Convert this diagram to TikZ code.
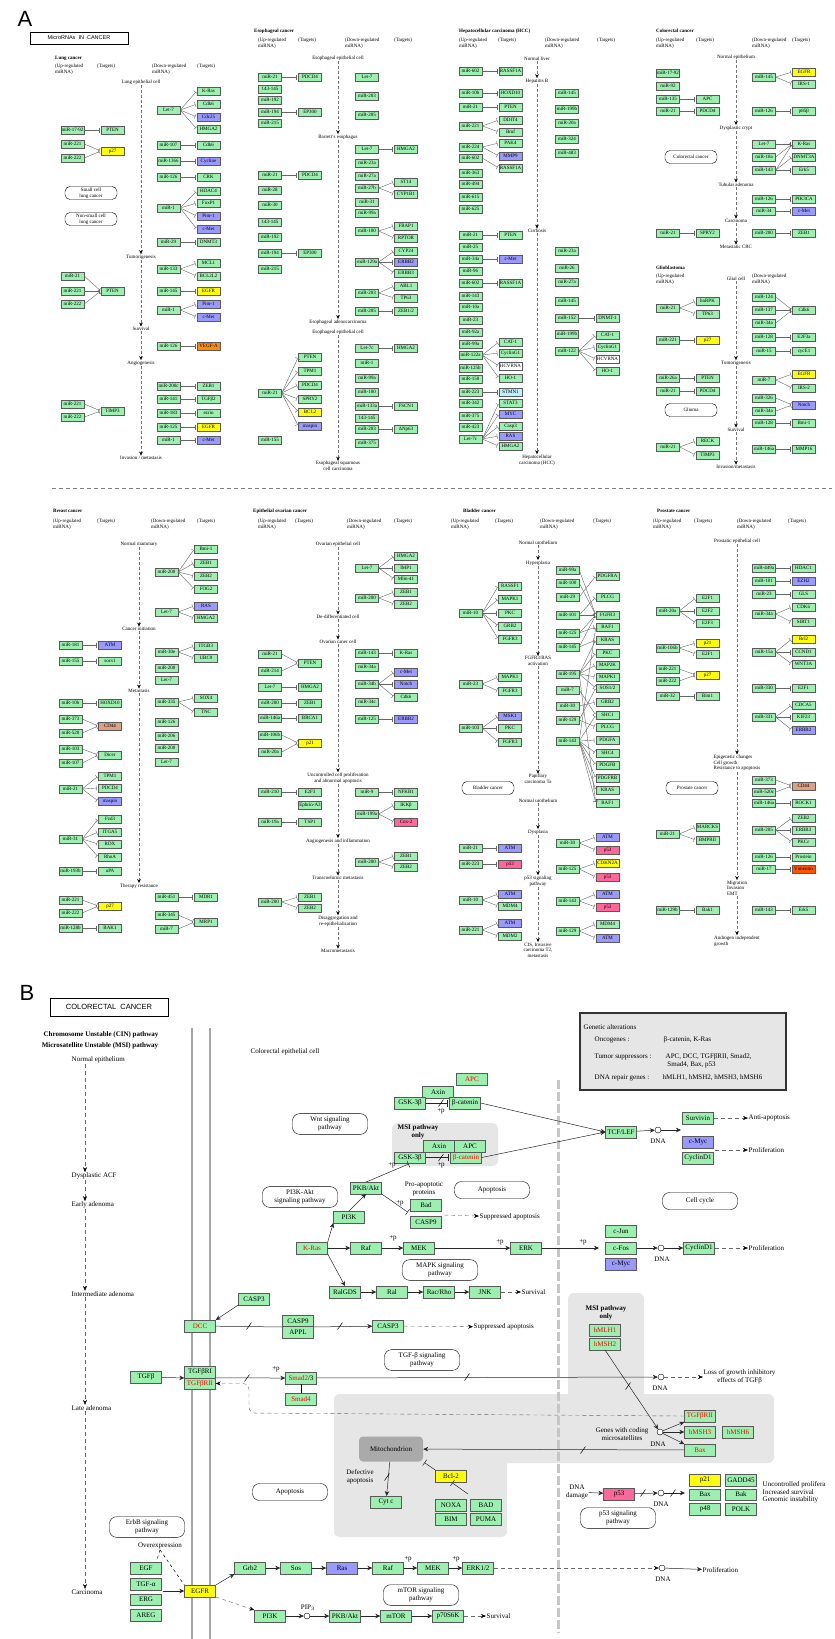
\documentclass[tikz,border=0pt]{standalone}
\usepackage{fontspec}
\setmainfont{Liberation Serif}
\newfontfamily\sansf{Liberation Sans}
\usetikzlibrary{arrows.meta,positioning}
\definecolor{kgreen}{RGB}{155,240,175}
\definecolor{kblue}{RGB}{153,153,255}
\definecolor{kyel}{RGB}{255,255,0}
\definecolor{korange}{RGB}{255,140,0}
\definecolor{kverm}{RGB}{255,85,0}
\definecolor{kpink}{RGB}{255,102,153}
\definecolor{ksalmon}{RGB}{222,160,130}
\definecolor{kcyan}{RGB}{190,240,255}
\definecolor{kgray}{RGB}{230,230,230}
\definecolor{kmito}{RGB}{170,170,170}
\newcommand\fsA{\fontsize{5}{5.6}\selectfont}
\newcommand\fsB{\fontsize{7}{7.6}\selectfont}

\begin{document}
\begin{tikzpicture}[x=1pt, y=-1pt, line width=0.4pt,
    mi/.style={draw=black!65, fill=kgreen, minimum width=23pt, minimum height=8.5pt, inner sep=0pt, font=\fsA},
    mb/.style={mi, fill=kblue}, my/.style={mi, fill=kyel}, mo/.style={mi, fill=korange},
    mv/.style={mi, fill=kverm}, mp/.style={mi, fill=kpink}, ms/.style={mi, fill=ksalmon},
    mc/.style={mi, fill=kcyan}, mw/.style={mi, fill=white},
    lab/.style={font=\fsA, align=center, inner sep=0.5pt},
    hd/.style={font=\fsA, align=left, anchor=north west, inner sep=0pt},
    ttl/.style={font=\fsA\bfseries, anchor=west, inner sep=0pt},
    pw/.style={draw, rounded corners=5pt, font=\fsA, align=center, minimum width=52pt, minimum height=13pt, inner sep=1pt},
    flow/.style={draw=black!55, dash pattern=on 3pt off 2pt, -{Stealth[length=4pt,width=3.5pt,black]}},
    inh/.style={draw=black!60, -{Bar[width=5pt]}, shorten >=1.5pt},
    gbox/.style={draw=black!65, fill=kgreen, minimum width=31pt, minimum height=11.5pt, inner sep=0pt, font=\fsB},
    gblue/.style={gbox, fill=kblue}, gyel/.style={gbox, fill=kyel}, gpink/.style={gbox, fill=kpink},
    rt/.style={text=red},
    labB/.style={font=\fsB, align=center, inner sep=0.5pt},
    pwB/.style={draw, rounded corners=7pt, font=\fsB, align=center, minimum width=75pt, minimum height=17pt},
    act/.style={draw=black!85, line width=0.5pt, -{Stealth[length=5pt,width=4.5pt]}},
    inhB/.style={draw=black!85, line width=0.5pt, -{Bar[width=7pt]}, shorten >=1.5pt},
    dna/.style={circle, draw, fill=white, minimum size=6pt, inner sep=0pt},
    flowB/.style={draw=black!60, dash pattern=on 4pt off 3pt, -{Stealth[length=5pt,width=4pt,black]}}
  ]
  \useasboundingbox (0,0) rectangle (835,1639);
  \fill[white] (0,0) rectangle (835,1639);

  % ---------- Panel A ----------
  \node[font=\sansf\fontsize{22}{22}\selectfont, inner sep=0pt] (letA) at (25,19) {A};
  \node[draw, line width=0.8pt, minimum width=98pt, minimum height=12pt, inner sep=0pt, font=\sansf\fontsize{5.5}{6}\selectfont] (titA) at (79,38) {MicroRNAs\ \ IN\ \ CANCER};
  \draw[black!50, dash pattern=on 4pt off 3pt] (52,488) -- (832,488);

  % Lung cancer
  \node[ttl] (lu-t) at (55,58) {Lung cancer};
  \node[hd] (lu-h1) at (55,64) {(Up-regulated\\miRNA)};
  \node[hd] (lu-h2) at (97,64) {(Targets)};
  \node[hd] (lu-h3) at (152,64) {(Down-regulated\\miRNA)};
  \node[hd] (lu-h4) at (197,64) {(Targets)};
  \foreach \n/\y/\t in {0/82/Lung epithelial cell, 1/257/Tumorigenesis, 2/329/Survival, 3/363/Angiogenesis, 4/458/{Invasion / metastasis}}
    \node[lab] (lu-s\n) at (141,\y) {\t};
  \foreach \a/\b in {0/1,1/2,2/3,3/4} \draw[flow] (lu-s\a) -- (lu-s\b);
  \node[pw] (lu-p1) at (91,193) {Small cell\\lung cancer};
  \node[pw] (lu-p2) at (91,219) {Non-small cell\\lung cancer};
  \foreach \n/\y/\t in {1/130/miR-17-92, 2/144/miR-221, 3/158/miR-222, 4/276/miR-21, 5/291/miR-221, 6/304/miR-222, 7/404/miR-221, 8/417/miR-222}
    \node[mi] (lu-L\n) at (72.5,\y) {\t};
  \foreach \n/\y/\t/\s in {1/130/PTEN/mi, 2/151/p27/my, 3/291/PTEN/mi, 4/411/TIMP3/mi}
    \node[\s] (lu-l\n) at (112.5,\y) {\t};
  \foreach \n/\y/\t in {1/110/Let-7, 2/145/miR-107, 3/161/miR-1366, 4/177/miR-126, 5/208/miR-1, 6/242/miR-29, 7/269/miR-133, 8/291/miR-145, 9/310/miR-1, 10/346/miR-126, 11/386/miR-200c, 12/399/miR-141, 13/413/miR-183, 14/427/miR-125, 15/440/miR-1}
    \node[mi] (lu-R\n) at (168.5,\y) {\t};
  \foreach \n/\y/\t/\s in {1/91/K-Ras/mi, 2/104/Cdk6/mi, 3/117/Cdc25/mb, 4/129/HMGA2/mi, 5/145/Cdk6/mi, 6/161/Cycline/mb, 7/177/CRK/mi, 8/191/HDAC4/mi, 9/203/FoxP1/mi, 10/216/Pim-1/mb, 11/229/c-Met/mb, 12/242/DNMT3/mi, 13/263/MCL1/mi, 14/276/BCL2L2/mi, 15/291/EGFR/my, 16/304/Pim-1/mb, 17/317/c-Met/mb, 18/346/VEGF-A/mo, 19/386/ZEB1/mi, 20/399/TGFβ2/mi, 21/413/ezrin/mi, 22/427/EGFR/my, 23/440/c-Met/mb}
    \node[\s] (lu-r\n) at (208.5,\y) {\t};
  \foreach \a/\b in {L1/l1, L2/l2, L3/l2, L4/l3, L5/l3, L6/l3, L7/l4, L8/l4, R1/r1, R1/r2, R1/r3, R1/r4, R2/r5, R3/r6, R4/r7, R5/r8, R5/r9, R5/r10, R5/r11, R6/r12, R7/r13, R7/r14, R8/r15, R9/r16, R9/r17, R10/r18, R11/r19, R12/r20, R13/r21, R14/r22, R15/r23}
    \draw[inh] (lu-\a.east) -- (lu-\b.west);

  % Esophageal cancer
  \node[ttl] (es-t) at (254,31) {Esophageal cancer};
  \node[hd] (es-h1) at (258,38) {(Up-regulated\\miRNA)};
  \node[hd] (es-h2) at (298,38) {(Targets)};
  \node[hd] (es-h3) at (345,38) {(Down-regulated\\miRNA)};
  \node[hd] (es-h4) at (394,38) {(Targets)};
  \foreach \n/\y/\t in {0/58/Esophageal epithelial cell, 1/137/Barrett's esophagus, 2/322/Esophageal adenocarcinoma, 3/332/Esophageal epithelial cell, 4/466/{Esophageal squamous\\cell carcinoma}}
    \node[lab] (es-s\n) at (338,\y) {\t};
  \foreach \a/\b in {0/1,1/2,3/4} \draw[flow] (es-s\a) -- (es-s\b);
  \foreach \n/\y/\t in {1/77/miR-21, 2/89/143-145, 3/100/miR-192, 4/112/miR-194, 5/123/miR-215, 6/175/miR-21, 7/190/miR-28, 8/205/miR-30, 9/222/143-145, 10/237/miR-192, 11/253/miR-194, 12/269/miR-215, 13/393/miR-21, 14/440/miR-155}
    \node[mi] (es-L\n) at (270,\y) {\t};
  \foreach \n/\y/\t/\s in {1/77/PDCD4/mi, 2/112/EP300/mi, 3/175/PDCD4/mi, 4/253/EP300/mi, 5/357/PTEN/mi, 6/371/TPM1/mi, 7/385/PDCD4/mi, 8/399/SPRY2/mi, 9/412/BCL2/my, 10/426/maspin/mb}
    \node[\s] (es-l\n) at (310,\y) {\t};
  \foreach \n/\y/\t in {1/77/Let-7, 2/96/miR-203, 3/115/miR-205, 4/149/Let-7, 5/163/miR-23a, 6/176/miR-27a, 7/188/miR-27b, 8/202/miR-31, 9/213/miR-99a, 10/231/miR-100, 11/262/miR-129a, 12/293/miR-203, 13/311/miR-205, 14/348/Let-7c, 15/363/miR-1, 16/378/miR-99a, 17/392/miR-100, 18/406/miR-133a, 19/418/143-145, 20/429/miR-203, 21/443/miR-375}
    \node[mi] (es-R\n) at (367,\y) {\t};
  \foreach \n/\y/\t/\s in {1/149/HMGA2/mi, 2/182/ST14/mi, 3/194/CYP1B1/mi, 4/226/FRAP1/mi, 5/238/RPTOR/mi, 6/251/CYP24/mi, 7/262/ERBB2/mb, 8/273/ERBB3/mi, 9/286/ABL1/mi, 10/298/TP63/mi, 11/311/{ZEB1/2}/mi, 12/348/HMGA2/mi, 13/406/FSCN1/mi, 14/429/ΔNp63/mi}
    \node[\s] (es-r\n) at (406,\y) {\t};
  \foreach \a/\b in {L1/l1, L4/l2, L6/l3, L11/l4, L13/l5, L13/l6, L13/l7, L13/l8, L13/l9, L13/l10, R4/r1, R7/r2, R7/r3, R10/r4, R10/r5, R11/r6, R11/r7, R11/r8, R12/r9, R12/r10, R13/r11, R14/r12, R18/r13, R20/r14}
    \draw[inh] (es-\a.east) -- (es-\b.west);

  % Hepatocellular carcinoma
  \node[ttl] (hc-t) at (459,31) {Hepatocellular carcinoma (HCC)};
  \node[hd] (hc-h1) at (459,38) {(Up-regulated\\miRNA)};
  \node[hd] (hc-h2) at (498,38) {(Targets)};
  \node[hd] (hc-h3) at (545,38) {(Down-regulated\\miRNA)};
  \node[hd] (hc-h4) at (597,38) {(Targets)};
  \foreach \n/\y/\t in {0/59/Normal liver, 1/81/Hepatitis B, 2/231/Cirrhosis, 3/460/{Hepatocellular\\carcinoma (HCC)}}
    \node[lab] (hc-s\n) at (537,\y) {\t};
  \foreach \a/\b in {0/1,1/2,2/3} \draw[flow] (hc-s\a) -- (hc-s\b);
  \foreach \n/\y/\t in {1/71/miR-602, 2/93/miR-10b, 3/107/miR-21, 4/126/miR-221, 5/147/miR-224, 6/158/miR-602, 7/173/miR-363, 8/184/miR-494, 9/197/miR-615, 10/209/miR-625, 11/235/miR-21, 12/247/miR-25, 13/259/miR-34a, 14/271/miR-96, 15/283/miR-602, 16/296/miR-143, 17/307/miR-10a, 18/320/miR-23, 19/332/miR-92a, 20/344/miR-99a, 21/355/miR-122a, 22/368/miR-125b, 23/379/miR-150, 24/392/miR-223, 25/403/miR-342, 26/416/miR-375, 27/427/miR-423, 28/439/Let-7c}
    \node[mi] (hc-L\n) at (470.5,\y) {\t};
  \foreach \n/\y/\t/\s in {1/71/RASSF1A/mi, 2/93/HOXD10/mi, 3/107/PTEN/mi, 4/120/DDIT4/mi, 5/132/Bmf/mi, 6/143/PAK4/mi, 7/156/MMP9/mb, 8/168/RASSF1A/mi, 9/235/PTEN/mi, 10/259/c-Met/mb, 11/283/RASSF1A/mi, 12/342/CAT-1/mi, 13/353/CyclinG1/mi, 14/366/HCVRNA/mw, 15/378/HO-1/mi, 16/392/STMN1/mc, 17/403/STAT3/mi, 18/414/MYC/mb, 19/426/Casp3/mi, 20/436/RAS/mb, 21/446/HMGA2/mi}
    \node[\s] (hc-l\n) at (510.5,\y) {\t};
  \foreach \n/\y/\t in {1/93/miR-145, 2/109/miR-199b, 3/123/miR-20a, 4/139/miR-324, 5/153/miR-483, 6/251/miR-23a, 7/268/miR-26, 8/282/miR-27a, 9/301/miR-145, 10/318/miR-152, 11/334/miR-199b, 12/351/miR-122}
    \node[mi] (hc-R\n) at (567,\y) {\t};
  \foreach \n/\y/\t/\s in {1/318/DNMT-1/mi, 2/335/CAT-1/mi, 3/347/CyclinG1/mi, 4/359/HCVRNA/mw, 5/371/HO-1/mi}
    \node[\s] (hc-r\n) at (607.5,\y) {\t};
  \foreach \a/\b in {L1/l1, L2/l2, L3/l3, L4/l4, L4/l5, L5/l6, L5/l7, L6/l8, L11/l9, L13/l10, L15/l11, L21/l12, L21/l13, L21/l14, L21/l15, L24/l16, L28/l17, L28/l18, L28/l19, L28/l20, L28/l21, R10/r1, R12/r2, R12/r3, R12/r4, R12/r5}
    \draw[inh] (hc-\a.east) -- (hc-\b.west);

  % Colorectal cancer
  \node[ttl] (cr-t) at (656,31) {Colorectal cancer};
  \node[hd] (cr-h1) at (656,38) {(Up-regulated\\miRNA)};
  \node[hd] (cr-h2) at (696,38) {(Targets)};
  \node[hd] (cr-h3) at (752,38) {(Down-regulated\\miRNA)};
  \node[hd] (cr-h4) at (792,38) {(Targets)};
  \foreach \n/\y/\t in {0/57/Normal epithelium, 1/128/Dysplastic crypt, 2/185/Tubular adenoma, 3/221/Carcinoma, 4/247/Metastatic CRC}
    \node[lab] (cr-s\n) at (736,\y) {\t};
  \foreach \a/\b in {0/1,1/2,2/3,3/4} \draw[flow] (cr-s\a) -- (cr-s\b);
  \node[pw] (cr-p) at (691,157) {Colorectal cancer};
  \foreach \n/\y/\t in {1/73/miR-17-92, 2/86/miR-92, 3/99/miR-135, 4/111/miR-21, 5/233/miR-21}
    \node[mi] (cr-L\n) at (668,\y) {\t};
  \foreach \n/\y/\t in {1/99/APC, 2/111/PDCD4, 3/233/SPRY2}
    \node[mi] (cr-l\n) at (707.5,\y) {\t};
  \foreach \n/\y/\t in {1/77/miR-145, 2/111/miR-126, 3/144/Let-7, 4/157/miR-18a, 5/170/miR-143, 6/199/miR-126, 7/211/miR-34, 8/233/miR-200}
    \node[mi] (cr-R\n) at (764,\y) {\t};
  \foreach \n/\y/\t/\s in {1/72/EGFR/my, 2/84/IRS-1/mi, 3/111/p85β/mi, 4/144/K-Ras/mi, 5/157/DNMT3A/mi, 6/170/Erk5/mi, 7/199/PIK3CA/mi, 8/211/c-Met/mb, 9/233/ZEB1/mi}
    \node[\s] (cr-r\n) at (804,\y) {\t};
  \foreach \a/\b in {L3/l1, L4/l2, L5/l3, R1/r1, R1/r2, R2/r3, R3/r4, R4/r4, R5/r4, R5/r5, R5/r6, R6/r7, R7/r8, R8/r9}
    \draw[inh] (cr-\a.east) -- (cr-\b.west);

  % Glioblastoma
  \node[ttl] (gb-t) at (656,268) {Glioblastoma};
  \node[hd] (gb-h1) at (656,274) {(Up-regulated\\miRNA)};
  \node[hd] (gb-h3) at (752,274) {(Down-regulated\\miRNA)};
  \foreach \n/\y/\t in {0/279/Glial cell, 1/363/Tumorigenesis, 2/430/Survival, 3/467/{Invasion/metastasis}}
    \node[lab] (gb-s\n) at (736,\y) {\t};
  \foreach \a/\b in {0/1,1/2,2/3} \draw[flow] (gb-s\a) -- (gb-s\b);
  \node[pw] (gb-p) at (691,410) {Glioma};
  \foreach \n/\y/\t in {1/308/miR-21, 2/340/miR-221, 3/378/miR-26a, 4/391/miR-21, 5/447/miR-21}
    \node[mi] (gb-L\n) at (668,\y) {\t};
  \foreach \n/\y/\t/\s in {1/301/hnRPK/mi, 2/314/TP63/mi, 3/340/p27/my, 4/378/PTEN/mi, 5/391/PDCD4/mi, 6/441/RECK/mi, 7/455/TIMP3/mi}
    \node[\s] (gb-l\n) at (707.5,\y) {\t};
  \foreach \n/\y/\t in {1/297/miR-124, 2/310/miR-137, 3/323/miR-34a, 4/337/miR-128, 5/351/miR-15, 6/380/miR-7, 7/398/miR-326, 8/411/miR-34a, 9/423/miR-128, 10/449/miR-146a}
    \node[mi] (gb-R\n) at (764,\y) {\t};
  \foreach \n/\y/\t/\s in {1/310/Cdk6/mi, 2/337/E2F3a/mi, 3/351/cycE1/mi, 4/374/EGFR/my, 5/388/IRS-2/mi, 6/405/Notch/mb, 7/423/Bmi-1/mi, 8/449/MMP16/mi}
    \node[\s] (gb-r\n) at (804,\y) {\t};
  \foreach \a/\b in {L1/l1, L1/l2, L2/l3, L3/l4, L4/l5, L5/l6, L5/l7, R1/r1, R2/r1, R3/r1, R4/r2, R5/r3, R6/r4, R6/r5, R7/r6, R8/r6, R9/r7, R10/r8}
    \draw[inh] (gb-\a.east) -- (gb-\b.west);

  % Breast cancer
  \node[ttl] (br-t) at (53,511) {Breast cancer};
  \node[hd] (br-h1) at (53,519) {(Up-regulated\\miRNA)};
  \node[hd] (br-h2) at (97,519) {(Targets)};
  \node[hd] (br-h3) at (151,519) {(Down-regulated\\miRNA)};
  \node[hd] (br-h4) at (197,519) {(Targets)};
  \foreach \n/\y/\t in {0/544/Normal mammary, 1/629/Cancer initiation, 2/691/Metastasis, 3/886/Therapy resistance}
    \node[lab] (br-s\n) at (139,\y) {\t};
  \foreach \a/\b in {0/1,1/2,2/3} \draw[flow] (br-s\a) -- (br-s\b);
  \foreach \n/\y/\t in {1/645/miR-181, 2/661/miR-155, 3/703/miR-10b, 4/719/miR-373, 5/733/miR-520, 6/749/miR-103, 7/763/miR-107, 8/789/miR-21, 9/839/miR-31, 10/871/miR-193b, 11/900/miR-221, 12/913/miR-222, 13/928/miR-128b}
    \node[mi] (br-L\n) at (70.5,\y) {\t};
  \foreach \n/\y/\t/\s in {1/645/ATM/mb, 2/661/socs1/mi, 3/703/HOXD10/mi, 4/726/CD44/ms, 5/755/Dicer/mi, 6/776/TPM1/mi, 7/788/PDCD4/mi, 8/801/maspin/mb, 9/819/Fzd3/mi, 10/832/ITGA5/mi, 11/844/RDX/mi, 12/857/RhoA/mi, 13/871/uPA/mi, 14/906/p27/my, 15/928/BAK1/mi}
    \node[\s] (br-l\n) at (110,\y) {\t};
  \foreach \n/\y/\t in {1/572/miR-200, 2/612/Let-7, 3/652/miR-30e, 4/668/miR-200, 5/680/Let-7, 6/702/miR-335, 7/722/miR-126, 8/736/miR-206, 9/748/miR-200, 10/762/Let-7, 11/897/miR-451, 12/915/miR-345, 13/929/miR-7}
    \node[mi] (br-R\n) at (166.5,\y) {\t};
  \foreach \n/\y/\t/\s in {1/549/Bmi-1/mi, 2/563/ZEB1/mi, 3/576/ZEB2/mi, 4/589/FOG2/mi, 5/606/RAS/mb, 6/618/HMGA2/mi, 7/646/ITGB3/mi, 8/658/UBC9/mi, 9/698/SOX4/mi, 10/712/TNC/mi, 11/897/MDR1/mi, 12/922/MRP1/mi}
    \node[\s] (br-r\n) at (206,\y) {\t};
  \foreach \a/\b in {L1/l1, L2/l2, L3/l3, L4/l4, L5/l4, L6/l5, L7/l5, L8/l6, L8/l7, L8/l8, L9/l9, L9/l10, L9/l11, L9/l12, L10/l13, L11/l14, L12/l14, L13/l15, R1/r1, R1/r2, R1/r3, R1/r4, R2/r5, R2/r6, R3/r7, R3/r8, R6/r9, R6/r10, R11/r11, R12/r12, R13/r12}
    \draw[inh] (br-\a.east) -- (br-\b.west);

  % Epithelial ovarian cancer
  \node[ttl] (ov-t) at (253,511) {Epithelial ovarian cancer};
  \node[hd] (ov-h1) at (258,519) {(Up-regulated\\miRNA)};
  \node[hd] (ov-h2) at (295,519) {(Targets)};
  \node[hd] (ov-h3) at (347,519) {(Down-regulated\\miRNA)};
  \node[hd] (ov-h4) at (394,519) {(Targets)};
  \foreach \n/\y/\t in {0/544/Ovarian epithelial cell, 1/617/De-differentiated cell, 2/642/Ovarian caner cell, 3/778/{Uncontrolled cell proliferation\\and abnormal apoptosis}, 4/841/Angiogenesis and inflammation, 5/878/Transcoelomic metastasis, 6/921/{Disaggregation and\\re-epithelialization}, 7/951/Macrometastasis}
    \node[lab] (ov-s\n) at (338,\y) {\t};
  \foreach \a/\b in {0/1,1/2,2/3,3/4,4/5,5/6,6/7} \draw[flow] (ov-s\a) -- (ov-s\b);
  \foreach \n/\y/\t in {1/654/miR-21, 2/671/miR-214, 3/687/Let-7, 4/703/miR-200, 5/718/miR-146a, 6/735/miR-106b, 7/752/miR-20a, 8/792/miR-210, 9/822/miR-19a, 10/902/miR-200}
    \node[mi] (ov-L\n) at (270,\y) {\t};
  \foreach \n/\y/\t/\s in {1/663/PTEN/mi, 2/687/HMGA2/mi, 3/703/ZEB1/mi, 4/718/BRCA1/mi, 5/743/p21/my, 6/792/E2F3/mi, 7/805/Ephrin-A3/mi, 8/822/TSP1/mi, 9/897/ZEB1/mi, 10/908/ZEB2/mi}
    \node[\s] (ov-l\n) at (310,\y) {\t};
  \foreach \n/\y/\t in {1/568/Let-7, 2/598/miR-200, 3/653/miR-143, 4/667/miR-34a, 5/684/miR-34b, 6/702/miR-34c, 7/719/miR-125, 8/792/miR-9, 9/814/miR-199a, 10/862/miR-200}
    \node[mi] (ov-R\n) at (367,\y) {\t};
  \foreach \n/\y/\t/\s in {1/556/HMGA2/mi, 2/568/IMP1/mi, 3/579/Mlin-41/mi, 4/592/ZEB1/mi, 5/604/ZEB2/mi, 6/653/K-Ras/mi, 7/672/c-Met/mb, 8/684/Notch/mb, 9/697/Cdk6/mi, 10/719/ERBB2/mb, 11/792/NFKB1/mi, 12/805/IKKβ/mi, 13/822/Cox-2/mp, 14/856/ZEB1/mi, 15/867/ZEB2/mi}
    \node[\s] (ov-r\n) at (406,\y) {\t};
  \foreach \a/\b in {L1/l1, L2/l1, L3/l2, L4/l3, L5/l4, L6/l5, L7/l5, L8/l6, L9/l8, L10/l9, L10/l10, R1/r1, R1/r2, R1/r3, R2/r4, R2/r5, R3/r6, R5/r7, R5/r8, R5/r9, R7/r10, R8/r11, R9/r12, R9/r13, R10/r14, R10/r15}
    \draw[inh] (ov-\a.east) -- (ov-\b.west);

  % Bladder cancer
  \node[ttl] (bl-t) at (463,511) {Bladder cancer};
  \node[hd] (bl-h1) at (451,519) {(Up-regulated\\miRNA)};
  \node[hd] (bl-h2) at (495,519) {(Targets)};
  \node[hd] (bl-h3) at (540,519) {(Down-regulated\\miRNA)};
  \node[hd] (bl-h4) at (593,519) {(Targets)};
  \foreach \n/\y/\t in {0/543/Normal urothelium, 1/563/Hyperplasia, 2/661/{FGFR3/RAS\\activation}, 3/779/{Papillary\\carcinoma Ta}, 4/801/Normal urothelium, 5/832/Dysplasia, 6/881/{p53 signaling\\pathway}, 7/950/{CIS, Invasive\\carcinoma T2,\\metastasis}}
    \node[lab] (bl-s\n) at (538,\y) {\t};
  \foreach \a/\b in {0/1,1/2,2/3,4/5,5/6,6/7} \draw[flow] (bl-s\a) -- (bl-s\b);
  \node[pw] (bl-p) at (488,788) {Bladder cancer};
  \foreach \n/\y/\t in {1/613/miR-10, 2/684/miR-23, 3/728/miR-103, 4/848/miR-21, 5/864/miR-223, 6/900/miR-10, 7/930/miR-221}
    \node[mi] (bl-L\n) at (470.5,\y) {\t};
  \foreach \n/\y/\t/\s in {1/586/RASSF1/mi, 2/599/MAPK1/mi, 3/613/PKC/mi, 4/626/GRB2/mi, 5/639/FGFR3/mi, 6/677/MAPK1/mi, 7/691/FGFR3/mi, 8/716/MSK1/mb, 9/728/PKC/mi, 10/742/FGFR3/mi, 11/848/ATM/mb, 12/864/p53/mp, 13/894/ATM/mb, 14/906/MDM4/mi, 15/923/ATM/mb, 16/936/MDM2/mi}
    \node[\s] (bl-l\n) at (510,\y) {\t};
  \foreach \n/\y/\t in {1/570/miR-99a, 2/583/miR-100, 3/597/miR-29, 4/615/miR-101, 5/633/miR-125, 6/647/miR-145, 7/674/miR-195, 8/690/miR-7, 9/706/miR-30, 10/720/miR-129, 11/741/miR-143, 12/843/miR-30, 13/869/miR-125, 14/901/miR-143, 15/931/miR-129}
    \node[mi] (bl-R\n) at (567.5,\y) {\t};
  \foreach \n/\y/\t/\s in {1/576/PDGFRA/mi, 2/597/PLCG/mi, 3/615/FGFR3/mi, 4/627/RAF1/mi, 5/640/KRAS/mi, 6/653/PKC/mi, 7/665/MAP2K/mi, 8/677/MAPK1/mi, 9/688/{SOS1/2}/mi, 10/702/GRB2/mi, 11/715/SHC1/mi, 12/727/PLCG/mi, 13/740/PDGFA/mi, 14/753/SHC4/mi, 15/765/PDGFB/mi, 16/778/PDGFRB/mi, 17/790/KRAS/mi, 18/803/RAF1/mi, 19/837/ATM/mb, 20/850/p53/mp, 21/863/CDKN2A/my, 22/877/p53/mp, 23/894/ATM/mb, 24/907/p53/mp, 25/924/MDM4/mi, 26/938/ATM/mb}
    \node[\s] (bl-r\n) at (607.5,\y) {\t};
  \foreach \a/\b in {L1/l1, L1/l2, L1/l3, L1/l4, L1/l5, L2/l6, L2/l7, L3/l8, L3/l9, L3/l10, L4/l11, L5/l12, L6/l13, L6/l14, L7/l15, L7/l16, R1/r3, R2/r3, R3/r1, R4/r2, R4/r3, R5/r3, R5/r4, R6/r3, R6/r5, R7/r5, R7/r6, R7/r7, R7/r8, R7/r9, R7/r18, R8/r11, R9/r10, R10/r9, R10/r12, R11/r4, R11/r11, R11/r13, R11/r14, R11/r15, R11/r16, R11/r17, R11/r18, R12/r19, R12/r20, R13/r21, R13/r22, R14/r23, R14/r24, R15/r25, R15/r26}
    \draw[inh] (bl-\a.east) -- (bl-\b.west);

  % Prostate cancer
  \node[ttl] (pr-t) at (657,511) {Prostate cancer};
  \node[hd] (pr-h1) at (653,519) {(Up-regulated\\miRNA)};
  \node[hd] (pr-h2) at (694,519) {(Targets)};
  \node[hd] (pr-h3) at (737,519) {(Down-regulated\\miRNA)};
  \node[hd] (pr-h4) at (788,519) {(Targets)};
  \foreach \n/\y/\t in {0/541/Prostatic epithelial cell, 1/763/{Epigenetic changes\\Cell growth\\Resistance to apoptosis}, 2/888/{Migration\\Invasion\\EMT}, 3/941/{Androgen independent\\growth}}
    \node[lab, align=left] (pr-s\n) at (737,\y) {\t};
  \foreach \a/\b in {0/1,1/2,2/3} \draw[flow] (pr-s\a) -- (pr-s\b);
  \node[pw] (pr-p) at (692,788) {Prostate cancer};
  \foreach \n/\y/\t in {1/611/miR-20a, 2/648/miR-106b, 3/669/miR-221, 4/681/miR-222, 5/696/miR-32, 6/834/miR-21, 7/910/miR-129b}
    \node[mi] (pr-L\n) at (667.5,\y) {\t};
  \foreach \n/\y/\t/\s in {1/598/E2F1/mi, 2/611/E2F2/mi, 3/623/E2F3/mi, 4/643/p21/my, 5/654/E2F1/mi, 6/675/p27/my, 7/696/Bim1/mi, 8/827/MARCKS/mi, 9/840/BMPRII/mi, 10/910/Bak1/mi}
    \node[\s] (pr-l\n) at (707.5,\y) {\t};
  \foreach \n/\y/\t in {1/568/miR-449a, 2/581/miR-101, 3/594/miR-23, 4/614/miR-34a, 5/652/miR-15a, 6/688/miR-330, 7/717/miR-331, 8/780/miR-373, 9/792/miR-520c, 10/803/miR-146a, 11/830/miR-205, 12/857/miR-126, 13/869/miR-17, 14/910/miR-143}
    \node[mi] (pr-R\n) at (764,\y) {\t};
  \foreach \n/\y/\t/\s in {1/568/HDAC1/mi, 2/581/EZH2/mb, 3/594/GLS/mi, 4/607/CDK6/mi, 5/622/SIRT1/mi, 6/639/Bcl2/my, 7/652/CCND1/mi, 8/664/WNT3A/mi, 9/688/E2F1/mi, 10/705/CDCA5/mi, 11/717/KIF23/mi, 12/730/ERBB2/mb, 13/786/CD44/ms, 14/803/ROCK1/mi, 15/818/ZEB2/mi, 16/830/ERBB3/mi, 17/842/PKCε/mi, 18/857/Prostein/mi, 19/869/Vimentin/mv, 20/910/Erk5/mi}
    \node[\s] (pr-r\n) at (803.5,\y) {\t};
  \foreach \a/\b in {L1/l1, L1/l2, L1/l3, L2/l4, L2/l5, L3/l6, L4/l6, L5/l7, L6/l8, L6/l9, L7/l10, R1/r1, R2/r2, R3/r3, R4/r4, R4/r5, R5/r6, R5/r7, R5/r8, R6/r9, R7/r10, R7/r11, R7/r12, R8/r13, R9/r13, R10/r14, R11/r15, R11/r16, R11/r17, R12/r18, R13/r19, R14/r20}
    \draw[inh] (pr-\a.east) -- (pr-\b.west);

  % ---------- Panel B ----------
  \node[font=\sansf\fontsize{22}{22}\selectfont, inner sep=0pt] (letB) at (27,993) {B};
  \node[draw, line width=1pt, minimum width=118pt, minimum height=18pt, inner sep=0pt, font=\sansf\fontsize{7.5}{8}\selectfont] (titB) at (109,1007) {COLORECTAL\ \ CANCER};

  % membrane and shaded areas
  \draw[gray!70, line width=2.2pt] (192,1028) -- (192,1639);
  \draw[gray!70, line width=2.2pt] (210,1028) -- (210,1639);
  \fill[kgray, rounded corners=6pt] (392,1123) rectangle (498,1166);
  \fill[kgray, rounded corners=6pt] (568,1293) rectangle (644,1400);
  \fill[kgray, rounded corners=6pt] (334,1394) rectangle (774,1463);
  \fill[kgray, rounded corners=6pt] (334,1394) rectangle (507,1537);
  \draw[gray!45, line width=3pt, dash pattern=on 9pt off 3pt] (558,1080) -- (558,1633);

  % pathway stages
  \node[labB, font=\fsB\bfseries] (cin) at (101,1035) {Chromosome Unstable (CIN) pathway};
  \node[labB, font=\fsB\bfseries] (msi) at (100,1046) {Microsatellite Unstable (MSI) pathway};
  \foreach \n/\y/\t in {0/1060/Normal epithelium, 1/1176/Dysplastic ACF, 2/1205/Early adenoma, 3/1294/Intermediate adenoma, 4/1408/Late adenoma, 5/1592/Carcinoma}
    \node[labB, anchor=west] (sB\n) at (71,\y) {\t};
  \foreach \a/\b in {0/1,1/2,2/3,3/4,4/5}
    \draw[flowB] ([xshift=14pt]sB\a.south west) -- ([xshift=14pt]sB\b.north west);
  \node[labB] (cell) at (285,1052) {Colorectal epithelial cell};

  % genetic alterations
  \node[draw=black!80, line width=1.3pt, fill=kgray, minimum width=206pt, minimum height=77pt, inner sep=0pt] (genalt) at (683,1051.5) {};
  \node[labB, anchor=west] (ga0) at (583,1027) {Genetic alterations};
  \node[labB, anchor=west] (ga1) at (594,1040) {Oncogenes :};
  \node[labB, anchor=west] (ga2) at (663,1040) {β-catenin, K-Ras};
  \node[labB, anchor=west] (ga3) at (594,1057) {Tumor suppressors :};
  \node[labB, anchor=north west, align=left] (ga4) at (665,1053) {APC, DCC, TGFβRII, Smad2,\\\ Smad4, Bax, p53};
  \node[labB, anchor=west] (ga5) at (594,1078) {DNA repair genes :};
  \node[labB, anchor=west] (ga6) at (662,1078) {hMLH1, hMSH2, hMSH3, hMSH6};

  % Wnt branch
  \node[pwB] (wnt) at (330,1124) {Wnt signaling\\pathway};
  \node[gbox, rt] (apc) at (472,1079) {APC};
  \node[gbox] (axin) at (438,1092) {Axin};
  \node[gbox] (gsk) at (410,1103) {GSK-3β};
  \node[gbox] (bcat) at (465,1103) {β-catenin};
  \node[labB, font=\fsB\bfseries] (msiA) at (418,1132) {MSI pathway\\only};
  \node[gbox] (axin2) at (439,1146) {Axin};
  \node[gbox] (apc2) at (470,1146) {APC};
  \node[gbox] (gsk2) at (410,1157.5) {GSK-3β};
  \node[gbox, rt] (bcat2) at (466,1157.5) {β-catenin};
  \node[gbox] (tcf) at (621,1132) {TCF/LEF};
  \node[dna] (dnaA) at (658,1130) {};
  \node[labB] (dnaAt) at (658,1141) {DNA};
  \coordinate (tA) at (681,1130);
  \node[gbox] (surv) at (698,1118) {Survivin};
  \node[gblue] (cmyc1) at (698,1142) {c-Myc};
  \node[gbox] (ccnd1) at (698,1158) {CyclinD1};
  \coordinate (mc) at (715,1150);
  \node[labB, anchor=west] (tAnti) at (748,1118) {Anti-apoptosis};
  \node[labB, anchor=west] (tProl1) at (748,1150) {Proliferation};

  % PI3K and MAPK branch
  \node[pwB] (pi3kpw) at (300,1197) {PI3K-Akt\\signaling pathway};
  \node[gbox] (pkb) at (366,1188) {PKB/Akt};
  \node[gbox] (pi3k) at (349,1217) {PI3K};
  \node[gbox, rt] (kras) at (312,1248) {K-Ras};
  \node[gbox] (raf) at (366,1248) {Raf};
  \node[gbox] (mek) at (419,1248) {MEK};
  \node[gbox] (erk) at (526,1248) {ERK};
  \node[labB] (proap) at (424,1189) {Pro-apoptotic\\proteins};
  \node[pwB] (apop1) at (492,1190) {Apoptosis};
  \node[gbox] (bad) at (426,1205) {Bad};
  \node[gbox] (casp9) at (426,1222) {CASP9};
  \coordinate (bcw) at (409,1213);
  \coordinate (bce) at (444,1215);
  \node[labB, anchor=west] (supp1) at (479,1217) {Suppressed apoptosis};
  \node[pwB] (cellcy) at (700,1201) {Cell cycle};
  \node[gbox] (cjun) at (621,1231) {c-Jun};
  \node[gbox] (cfos) at (621,1248) {c-Fos};
  \node[gblue] (cmyc2) at (621,1264) {c-Myc};
  \coordinate (jf) at (599,1248);
  \node[dna] (dnaB) at (661,1248) {};
  \node[labB] (dnaBt) at (662,1259) {DNA};
  \node[gbox] (ccnd2) at (699,1248) {CyclinD1};
  \node[labB, anchor=west] (tProl2) at (748,1248) {Proliferation};
  \node[pwB] (mapk) at (440,1270) {MAPK signaling\\pathway};
  \node[gbox] (ralgds) at (345,1292) {RalGDS};
  \node[gbox] (ral) at (392,1292) {Ral};
  \node[gbox] (racrho) at (439,1292) {Rac/Rho};
  \node[gbox] (jnk) at (485,1292) {JNK};
  \node[labB, anchor=west] (tSurv1) at (521,1292) {Survival};

  % DCC and TGF-beta branch
  \node[gbox] (casp3a) at (254,1299) {CASP3};
  \node[gbox, rt] (dcc) at (200,1326) {DCC};
  \node[gbox] (casp9b) at (298,1321) {CASP9};
  \node[gbox] (appl) at (298,1332) {APPL};
  \node[gbox] (casp3b) at (388,1326) {CASP3};
  \node[labB, anchor=west] (supp2) at (473,1327) {Suppressed apoptosis};
  \node[pwB] (tgfpw) at (422,1360) {TGF-β signaling\\pathway};
  \node[gbox] (tgfb) at (146,1377) {TGFβ};
  \node[gbox] (tgfr1) at (200,1372) {TGFβRI};
  \node[gbox, rt] (tgfr2) at (200,1383.5) {TGFβRII};
  \node[gbox] (smad23) at (301,1378) {\textcolor{red}{Smad2}/3};
  \node[gbox, rt] (smad4) at (301,1399) {Smad4};
  \node[dna] (dnaC) at (661,1377) {};
  \node[labB] (dnaCt) at (660,1388) {DNA};
  \node[labB, anchor=west] (tLoss) at (703,1377) {Loss of growth inhibitory\\effects of TGFβ};

  % MSI branch
  \node[labB, font=\fsB\bfseries] (msiB) at (606,1313) {MSI pathway\\only};
  \node[gbox, rt] (mlh1) at (605,1330) {hMLH1};
  \node[gbox, rt] (msh2) at (605,1344) {hMSH2};
  \node[dna] (dnaD) at (660,1432) {};
  \node[labB] (dnaDt) at (658,1444) {DNA};
  \node[labB] (tGenes) at (622,1434) {Genes with coding\\microsatellites};
  \node[gbox, rt] (tgfr2b) at (700,1416) {TGFβRII};
  \node[gbox, rt] (msh3) at (700,1432) {hMSH3};
  \node[gbox, rt] (msh6) at (738,1432) {hMSH6};
  \node[gbox, rt] (bax1) at (700,1450) {Bax};
  \node[fill=kmito, rounded corners=4pt, minimum width=64pt, minimum height=25pt, inner sep=0pt, font=\fsB] (mito) at (391,1449) {Mitochondrion};
  \node[labB] (tDef) at (360,1477) {Defective\\apoptosis};
  \node[gbox] (cytc) at (386,1502) {Cyt c};
  \node[pwB] (apop2) at (290,1492) {Apoptosis};
  \node[gyel] (bcl2) at (451,1476) {Bcl-2};
  \coordinate (nb) at (468,1494);
  \node[gbox] (noxa) at (451,1505) {NOXA};
  \node[gbox] (bad2) at (486,1505) {BAD};
  \node[gbox] (bim) at (451,1519) {BIM};
  \node[gbox] (puma) at (486,1519) {PUMA};

  % p53 branch
  \node[labB] (tDmg) at (577,1492) {DNA\\damage};
  \node[gpink] (p53) at (619,1494) {p53};
  \node[dna] (dnaE) at (661,1493) {};
  \node[labB] (dnaEt) at (661,1504) {DNA};
  \coordinate (tE) at (685,1493);
  \node[gyel] (p21) at (705,1480) {p21};
  \node[gbox] (gadd) at (741,1480) {GADD45};
  \node[gbox] (bax2) at (705,1494.5) {Bax};
  \node[gbox] (bak) at (741,1494.5) {Bak};
  \node[gbox] (p48) at (705,1509) {p48};
  \node[gbox] (polk) at (741,1509) {POLK};
  \node[labB, anchor=north west, align=left] (tOut) at (762,1481) {Uncontrolled prolifera\\Increased survival\\Genomic instability};
  \node[pwB] (p53pw) at (618,1518) {p53 signaling\\pathway};

  % EGFR branch
  \node[pwB] (erbb) at (147,1527) {ErbB signaling\\pathway};
  \node[labB] (tOver) at (160,1546) {Overexpression};
  \node[gbox] (egf) at (146,1568) {EGF};
  \node[gbox] (tgfa) at (146,1584) {TGF-α};
  \node[gbox] (erg) at (146,1599.5) {ERG};
  \node[gbox] (areg) at (146,1615) {AREG};
  \coordinate (ga) at (163,1591);
  \node[gyel] (egfr) at (200,1591) {EGFR};
  \node[gbox] (grb2) at (250,1568) {Grb2};
  \node[gbox] (sos) at (296,1568) {Sos};
  \node[gblue] (ras) at (342,1568) {Ras};
  \node[gbox] (rafB) at (388,1568) {Raf};
  \node[gbox] (mekB) at (433,1568) {MEK};
  \node[gbox] (erk12) at (478,1568) {ERK1/2};
  \node[dna] (dnaF) at (662,1568) {};
  \node[labB] (dnaFt) at (663,1579) {DNA};
  \node[labB, anchor=west] (tProl3) at (702,1570) {Proliferation};
  \node[pwB] (mtorpw) at (421,1595) {mTOR signaling\\pathway};
  \node[gbox] (pi3kB) at (270,1616) {PI3K};
  \node[dna] (pip) at (307,1616) {};
  \node[labB] (pipt) at (308,1608) {PIP$_3$};
  \node[gbox] (pkbB) at (345,1616) {PKB/Akt};
  \node[gbox] (mtor) at (396,1616) {mTOR};
  \node[gbox] (p70) at (448,1616) {p70S6K};
  \node[labB, anchor=west] (tSurv2) at (486,1616) {Survival};

  % +p labels
  \foreach \n/\x/\y in {1/441/1111, 2/441/1165, 3/392/1165, 4/400/1203, 5/393/1238, 6/500/1242, 7/583/1242, 8/276/1369, 9/408/1559, 10/456/1559}
    \node[labB] (pp\n) at (\x,\y) {+p};

  % connectors of panel B
  \draw[inhB] (gsk) -- (bcat);
  \draw[inhB] (gsk2) -- (bcat2);
  \draw[act] (bcat.east) -- (tcf.west);
  \draw[act] (bcat2.east) -- (tcf.west);
  \draw[act] (tcf) -- (dnaA);
  \draw[act] (dnaA) -- (tA);
  \draw[flowB] (surv) -- (tAnti);
  \draw[flowB] (mc) -- (tProl1);
  \draw[act] (kras) -- (raf);
  \draw[act] (raf) -- (mek);
  \draw[act] (mek) -- (erk);
  \draw[act] (erk) -- (jf);
  \draw[act] (kras.north east) -- (pi3k.south west);
  \draw[act] (pi3k.north) -- (pkb.south);
  \draw[inhB] (pkb.north) -- (gsk2.south);
  \draw[inhB] (pkb.south east) -- (bcw);
  \draw[flowB] (bce) -- (supp1);
  \draw[act] (cfos) -- (dnaB);
  \draw[act] (dnaB) -- (ccnd2);
  \draw[flowB] (ccnd2) -- (tProl2);
  \draw[act] (kras.south east) -- (ralgds.north);
  \draw[act] (ralgds) -- (ral);
  \draw[act] (ral) -- (racrho);
  \draw[act] (racrho) -- (jnk);
  \draw[flowB] (jnk) -- (tSurv1);
  \draw[act] (casp3a.south west) -- (dcc.north east);
  \draw[line width=0.5pt, draw=black!85] (dcc) -- (casp9b.south west);
  \draw[act] (casp9b.south east) -- (casp3b);
  \draw[flowB] (casp3b) -- (supp2);
  \draw[act] (tgfb) -- (tgfr1.south west);
  \draw[act] (tgfr1.south east) -- (smad23);
  \draw[line width=0.5pt] (smad23) -- (smad4);
  \draw[act] (smad23) -- (dnaC);
  \draw[flowB] (dnaC) -- (tLoss);
  \draw[flowB, rounded corners=6pt] (tgfr2b.west) -- (249,1413) -- (249,1383.5) -- (tgfr2.east);
  \draw[act] (msh2.south) -- (dnaD);
  \draw[act] (dnaD) -- (tgfr2b.south west);
  \draw[act] (dnaD) -- (msh3);
  \draw[act] (dnaD) -- (bax1.north west);
  \draw[act] (bax1) -- (mito);
  \draw[act] (mito) -- (cytc);
  \draw[inhB] (bcl2.north west) -- (mito.south east);
  \draw[inhB] (nb) -- (bcl2.south);
  \draw[act] (tDmg) -- (p53);
  \draw[act] (p53) -- (dnaE);
  \draw[act] (dnaE) -- (tE);
  \draw[dashed, line width=0.5pt] (tOver.south) -- (egfr.north west);
  \draw[dashed, line width=0.5pt] (tOver.south) -- ++(-3,10);
  \draw[act] (ga) -- (egfr);
  \draw[act] (egfr.north east) -- (grb2.south west);
  \draw[flowB] (egfr.south east) -- (pi3kB.north west);
  \draw[act] (grb2) -- (sos);
  \draw[act] (sos) -- (ras);
  \draw[act] (ras) -- (rafB);
  \draw[act] (rafB) -- (mekB);
  \draw[act] (mekB) -- (erk12);
  \draw[flowB] (erk12) -- (dnaF);
  \draw[act] (dnaF) -- (tProl3);
  \draw[act] (pi3kB) -- (pip);
  \draw[act] (pip) -- (pkbB);
  \draw[act] (pkbB) -- (mtor);
  \draw[act] (mtor) -- (p70);
  \draw[flowB] (p70) -- (tSurv2);

  % slash marks on lines
  \foreach \x/\y in {441/1103, 441/1157.5, 249/1326, 340/1326, 247/1378, 467/1377, 628/1386, 583/1450, 387/1477, 643/1493, 673/1493}
    \draw[line width=0.5pt] (\x,\y) ++(-2.5,3.5) -- ++(5,-7);
\end{tikzpicture}
\end{document}
